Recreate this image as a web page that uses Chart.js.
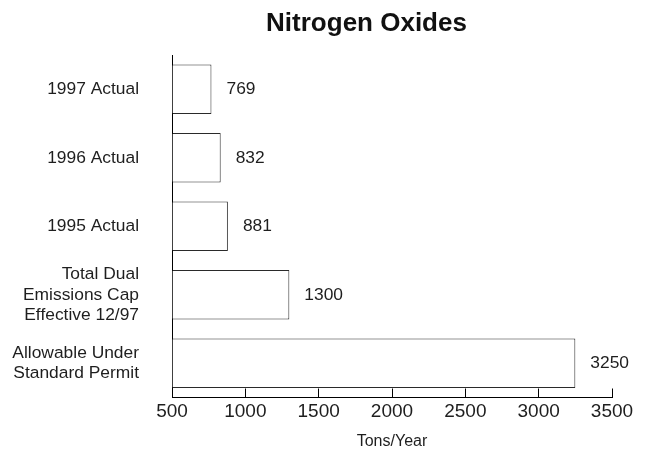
<!DOCTYPE html>
<html>
<head>
<meta charset="utf-8">
<script src="https://cdn.jsdelivr.net/npm/chart.js@4/dist/chart.umd.min.js"></script>
<style>
html,body{margin:0;padding:0;background:#fff;}
#wrap{width:649px;height:450px;}
</style>
</head>
<body>
<div id="wrap"><canvas id="c" width="649" height="450"></canvas></div>
<script>
// ---- data ----
const chartTitle = 'Nitrogen Oxides';
const categories = [
  '1997 Actual',
  '1996 Actual',
  '1995 Actual',
  ['Total Dual', 'Emissions Cap', 'Effective 12/97'],
  ['Allowable Under', 'Standard Permit']
];
const values = [769, 832, 881, 1300, 3250];
const tickValues = [500, 1000, 1500, 2000, 2500, 3000, 3500];
const xAxisTitle = 'Tons/Year';

const FONT = "'Liberation Sans', Arial, Helvetica, sans-serif";
const TEXT = '#1e1e1e';

const valueLabels = {
  id: 'valueLabels',
  afterDatasetsDraw(chart) {
    const ctx = chart.ctx;
    const meta = chart.getDatasetMeta(0);
    ctx.save();
    ctx.font = '17.4px ' + FONT;
    ctx.fillStyle = TEXT;
    ctx.textAlign = 'left';
    ctx.textBaseline = 'middle';
    meta.data.forEach((bar, i) => {
      ctx.fillText(String(values[i]), bar.x + 15, bar.y);
    });
    ctx.restore();
  }
};

new Chart(document.getElementById('c'), {
  type: 'bar',
  data: {
    labels: categories,
    datasets: [{
      data: values,
      backgroundColor: '#ffffff',
      borderColor: '#2a2a2a',
      borderWidth: 1,
      base: tickValues[0]
    }]
  },
  plugins: [valueLabels],
  options: {
    indexAxis: 'y',
    responsive: false,
    animation: false,
    layout: { padding: { left: 0, right: -84, top: 0, bottom: 0 } },
    plugins: {
      legend: { display: false },
      tooltip: { enabled: false },
      title: {
        display: true,
        text: chartTitle,
        color: '#111',
        font: { family: FONT, size: 26, weight: 'bold' },
        padding: { top: 8.4, bottom: 15.4 }
      }
    },
    scales: {
      x: {
        type: 'linear',
        position: 'bottom',
        min: tickValues[0],
        max: tickValues[tickValues.length - 1],
        z: 1,
        afterBuildTicks: s => { s.ticks = tickValues.map(v => ({ value: v })); },
        afterFit: s => { s.height = 52.5; s.paddingLeft = 0; s.paddingRight = 37; },
        grid: { drawOnChartArea: false, drawTicks: true, tickLength: -9, color: '#000', lineWidth: 1 },
        border: { display: true, color: '#000', width: 1 },
        ticks: {
          color: TEXT,
          font: { family: FONT, size: 19 },
          padding: 11.6,
          maxRotation: 0,
          autoSkip: false,
          callback: v => String(v)
        },
        title: {
          display: true,
          text: xAxisTitle,
          color: TEXT,
          font: { family: FONT, size: 16, lineHeight: 1 },
          padding: { top: 0, bottom: 0 }
        }
      },
      y: {
        type: 'category',
        z: 1,
        afterFit: s => { s.width = 172; s.paddingTop = 0; s.paddingBottom = 0; },
        grid: { display: false, drawTicks: false },
        border: { display: true, color: '#000', width: 1 },
        ticks: {
          color: TEXT,
          font: { family: FONT, size: 17.4, lineHeight: 1.16 },
          padding: 33,
          autoSkip: false
        }
      }
    }
  }
});
</script>
</body>
</html>
